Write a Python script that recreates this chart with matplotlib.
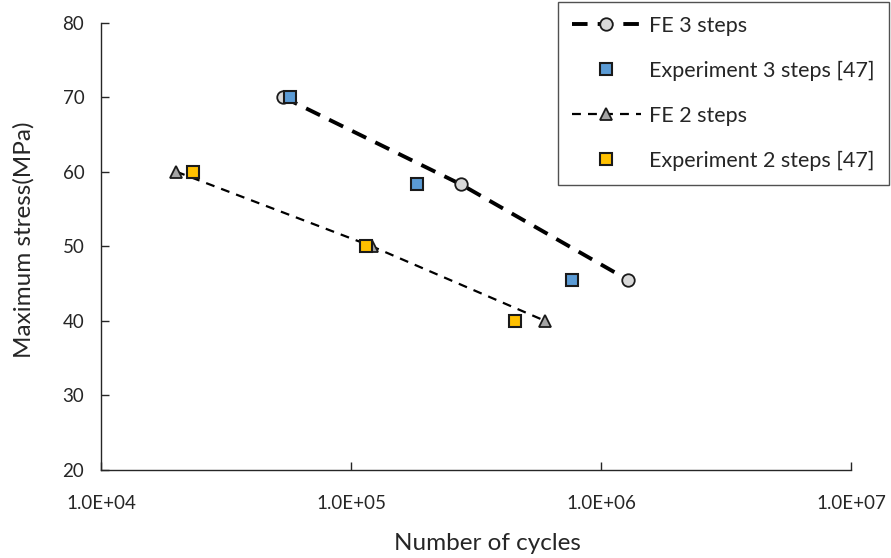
import matplotlib
matplotlib.use("Agg")
import matplotlib.pyplot as plt
from matplotlib.ticker import FixedLocator, FixedFormatter, NullLocator

plt.rcParams['font.family'] = ['Lato', 'DejaVu Sans']

# S-N data: number of cycles vs maximum stress (MPa)
fe3_cycles = [5.35e4, 2.75e5, 1.28e6]
fe3_stress = [70, 58.3, 45.5]
exp3_cycles = [5.7e4, 1.84e5, 7.65e5]
exp3_stress = [70, 58.3, 45.5]
fe2_cycles = [2.0e4, 1.21e5, 5.97e5]
fe2_stress = [60, 50, 40]
exp2_cycles = [2.33e4, 1.15e5, 4.53e5]
exp2_stress = [60, 50, 40]

x_ticks = [1e4, 1e5, 1e6, 1e7]
x_tick_labels = ["1.0E+04", "1.0E+05", "1.0E+06", "1.0E+07"]
y_ticks = [20, 30, 40, 50, 60, 70, 80]

fig = plt.figure(figsize=(8.91, 5.58), dpi=100)
ax = fig.add_axes([101/891, 1-470/558, 750/891, (470-22.5)/558])

ax.plot(fe3_cycles, fe3_stress, color='black', lw=2.8, dashes=(4.0, 2.6),
        marker='o', ms=9, mfc='#D9D9D9', mec='#1a1a1a', mew=1.3,
        label='FE 3 steps', zorder=3)
ax.plot(exp3_cycles, exp3_stress, ls='none', marker='s', ms=9,
        mfc='#5B9BD5', mec='#1a1a1a', mew=1.5,
        label='Experiment 3 steps [47]', zorder=4)
ax.plot(fe2_cycles, fe2_stress, color='black', lw=1.6, dashes=(4.0, 3.2),
        marker='^', ms=9, mfc='#A5A5A5', mec='#1a1a1a', mew=1.3,
        label='FE 2 steps', zorder=3)
ax.plot(exp2_cycles, exp2_stress, ls='none', marker='s', ms=9,
        mfc='#FFC000', mec='#1a1a1a', mew=1.5,
        label='Experiment 2 steps [47]', zorder=4)

ax.set_xscale('log')
ax.set_xlim(1e4, 1e7)
ax.set_ylim(20, 80)
ax.xaxis.set_major_locator(FixedLocator(x_ticks))
ax.xaxis.set_major_formatter(FixedFormatter(x_tick_labels))
ax.xaxis.set_minor_locator(NullLocator())
ax.set_yticks(y_ticks)

for s in ['top', 'right']:
    ax.spines[s].set_visible(False)
for s in ['left', 'bottom']:
    ax.spines[s].set_linewidth(1.0)
    ax.spines[s].set_color('#262626')

ax.tick_params(axis='both', direction='in', length=6, width=1.0,
               color='#262626', labelsize=13.5, labelcolor='#262626')
ax.tick_params(axis='x', pad=18)
ax.tick_params(axis='y', pad=12)

ax.set_xlabel('Number of cycles', fontsize=17.5, color='#262626')
ax.set_ylabel('Maximum stress(MPa)', fontsize=17.5, color='#262626')
ax.xaxis.set_label_coords(0.515, -0.14)
ax.yaxis.set_label_coords(-0.089, 0.514)

leg = ax.legend(loc='upper right', bbox_to_anchor=(889/891, 1-2/558),
                bbox_transform=fig.transFigure, fontsize=15.5,
                frameon=True, fancybox=False, edgecolor='#262626',
                handlelength=3.2, handletextpad=0.4, labelspacing=1.15,
                borderpad=0.65, borderaxespad=0)
leg.get_frame().set_linewidth(1.0)
for t in leg.get_texts():
    t.set_color('#262626')

fig.savefig('out.png', dpi=100)
